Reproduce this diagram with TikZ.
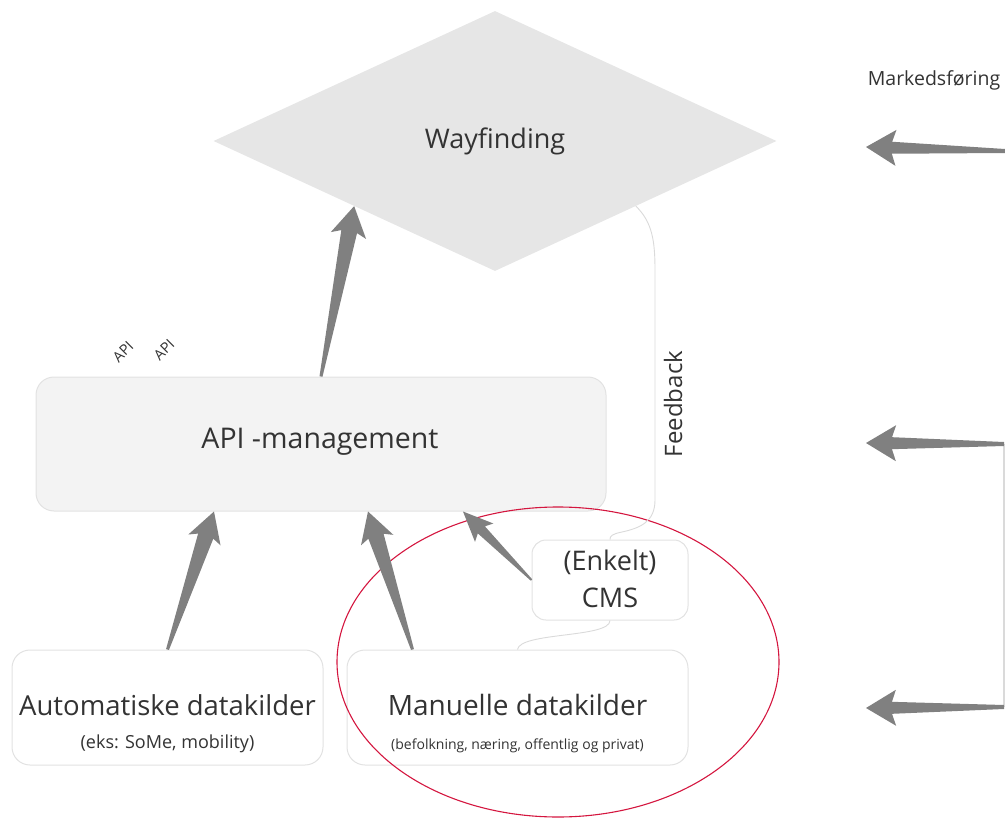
\documentclass[tikz,border=0pt]{standalone}
\usepackage{fontspec}
\setmainfont{Open Sans}
\usetikzlibrary{calc,shapes.geometric}
\definecolor{arrgray}{HTML}{808080}
\definecolor{txtgray}{HTML}{333333}
\definecolor{boxline}{HTML}{E2E2E2}
\definecolor{apifill}{HTML}{F3F3F3}
\definecolor{wayfill}{HTML}{E6E6E6}
\definecolor{ringred}{HTML}{D4163F}
\definecolor{thinline}{HTML}{DADADA}
\newcommand\fatarrow[5]{%
  \path ($(#2)!26pt!(#1)$) coordinate (fah) ($(#2)!30pt!(#1)$) coordinate (faw);
  \fill[arrgray] ($(#1)!#3!90:(#2)$) -- ($(fah)!#4!90:(#2)$) -- ($(faw)!#5!90:(#2)$) -- (#2)
    -- ($(faw)!#5!-90:(#2)$) -- ($(fah)!#4!-90:(#2)$) -- ($(#1)!#3!-90:(#2)$) -- cycle;
}
\tikzset{
  rbox/.style={draw=boxline, line width=1pt, rounded corners=18pt, fill=white, inner sep=0pt},
  lbl/.style={text=txtgray, inner sep=0pt},
  thin link/.style={draw=thinline, line width=0.9pt}
}
\begin{document}
\begin{tikzpicture}[x=1pt,y=-1pt]
\useasboundingbox (0,0) rectangle (1005,819);
% Wayfinding diamond
\node[diamond, fill=wayfill, minimum width=563pt, minimum height=260pt, aspect=2.165, inner sep=0pt] (way) at (495,141) {};
\node[lbl, font=\fontsize{27}{32}\selectfont] (waytxt) at (495,141) {Wayfinding};
% boxes
\node[rbox, fill=apifill, minimum width=570pt, minimum height=134pt] (api) at (321,444) {};
\node[lbl, font=\fontsize{28.5}{33}\selectfont] (apitxt) at (320,442) {API -management};
\node[rbox, minimum width=311pt, minimum height=115pt] (auto) at (167.5,707.5) {};
\node[lbl, font=\fontsize{27.5}{32}\selectfont] (autotxt) at (167.5,705) {Automatiske datakilder};
\node[lbl, font=\fontsize{18}{21}\selectfont] (autosub) at (167.5,744) {(eks: SoMe, mobility)};
\node[rbox, minimum width=341pt, minimum height=115pt] (man) at (517.5,707.5) {};
\node[lbl, font=\fontsize{28}{33}\selectfont] (mantxt) at (517.5,705) {Manuelle datakilder};
\node[lbl, font=\fontsize{14}{17}\selectfont] (mansub) at (517.5,746) {(befolkning, næring, offentlig og privat)};
\node[rbox, rounded corners=14pt, minimum width=156pt, minimum height=80pt] (cms) at (610,580) {};
\node[lbl, font=\fontsize{27}{32}\selectfont] (cms1) at (610,562) {(Enkelt)};
\node[lbl, font=\fontsize{27}{32}\selectfont] (cms2) at (610,598) {CMS};
% red ring
\draw[ringred, line width=1.1pt] (558,662) ellipse [x radius=221, y radius=155];
% feedback connector
\coordinate (fbs) at ($(way.east)!0.5!(way.south)$);
\path[thin link] (fbs) .. controls (652,222) and (655,240) .. (655,270) -- (655,500)
  .. controls (655,522) and (640,528) .. (622,532) .. controls (612,534) and (610,536) .. (cms.north);
\path[thin link] (cms.south) .. controls (610,638) and (520,632) .. (man.north);
\node[lbl, rotate=90, font=\fontsize{24}{28}\selectfont] (fbtxt) at (673,404) {Feedback};
% API labels
\node[lbl, rotate=45, font=\fontsize{14.5}{17}\selectfont] (api1) at (123,352) {API};
\node[lbl, rotate=45, font=\fontsize{14.5}{17}\selectfont] (api2) at (164,350) {API};
% Markedsforing
\node[lbl, font=\fontsize{19.5}{23}\selectfont] (mark) at (934,80) {Markedsføring};
% up arrows
\coordinate (u1t) at (api.north);
\coordinate (u1h) at ($(way.west)!0.5!(way.south)$);
\fatarrow{u1t}{u1h}{1.5pt}{8pt}{18pt}
\coordinate (u2t) at (auto.north);
\coordinate (u2h) at ($(api.south)+(-107,0)$);
\fatarrow{u2t}{u2h}{1.5pt}{8pt}{17pt}
\coordinate (u3t) at ($(man.north)+(-105,0)$);
\coordinate (u3h) at ($(api.south)+(47,0)$);
\fatarrow{u3t}{u3h}{1.5pt}{8pt}{17pt}
\coordinate (u4t) at (cms.west);
\coordinate (u4h) at ($(api.south)+(142,0)$);
\fatarrow{u4t}{u4h}{1pt}{5pt}{13pt}
% right side arrows
\coordinate (r1t) at (1005,151);
\coordinate (r1h) at (866,147);
\coordinate (r2t) at (1004,444);
\coordinate (r2h) at (866,443);
\coordinate (r3t) at (1004,707);
\coordinate (r3h) at (866,708);
\draw[thinline, line width=1.5pt] (r2t) -- (r3t);
\fatarrow{r1t}{r1h}{2pt}{6pt}{18pt}
\fatarrow{r2t}{r2h}{2pt}{6pt}{18pt}
\fatarrow{r3t}{r3h}{2pt}{6pt}{18pt}
\end{tikzpicture}
\end{document}
